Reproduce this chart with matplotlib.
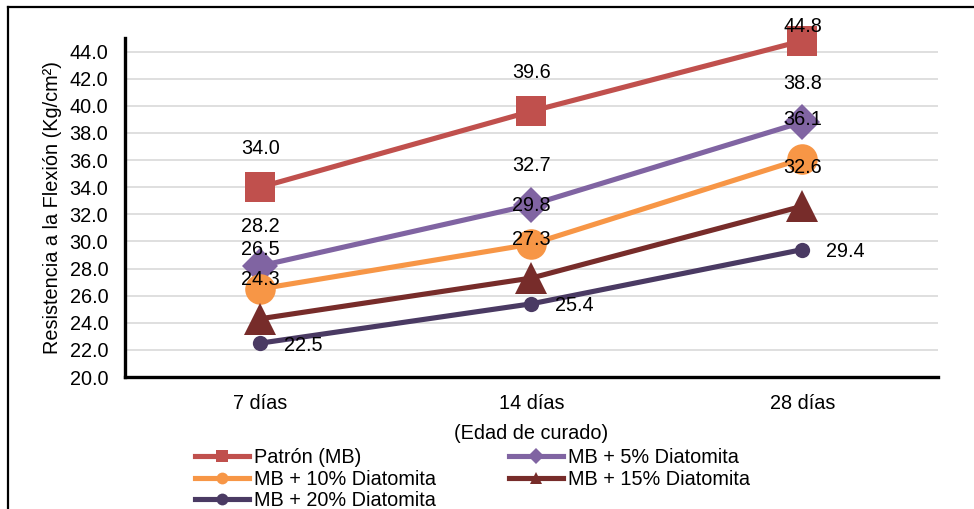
import matplotlib
matplotlib.use("Agg")
import matplotlib.pyplot as plt
from matplotlib.lines import Line2D

plt.rcParams['font.family'] = ['Liberation Sans', 'DejaVu Sans']

edades = ['7 días', '14 días', '28 días']

patron = [34.0, 39.6, 44.8]
dia5 = [28.2, 32.7, 38.8]
dia10 = [26.5, 29.8, 36.1]
dia15 = [24.3, 27.3, 32.6]
dia20 = [22.5, 25.4, 29.4]

nombres = ['Patrón (MB)', 'MB + 5% Diatomita', 'MB + 10% Diatomita',
           'MB + 15% Diatomita', 'MB + 20% Diatomita']

# estilo de cada serie: color, marcador, tamaño
estilos = [
    ('#C0504D', 's', 21),
    ('#8064A2', 'D', 18.5),
    ('#F79646', 'o', 22),
    ('#772C2A', '^', 23),
    ('#4A3A63', 'o', 11),
]

fs = 14.3
fig = plt.figure(figsize=(9.74, 5.09), dpi=100)
ax = fig.add_axes([0.1283, 0.2593, 0.8347, 0.666])

x = range(len(edades))
series = [patron, dia5, dia10, dia15, dia20]
lineas = []
for vals, nombre, (c, m, ms) in zip(series, nombres, estilos):
    ln, = ax.plot(x, vals, color=c, lw=3.7, marker=m, markersize=ms,
                  markeredgewidth=0, label=nombre, zorder=3, clip_on=False)
    lineas.append(ln)

# etiquetas de datos: encima para las primeras series, a la derecha para la última
for vals in series[:4]:
    for i, v in enumerate(vals):
        dy = 28
        if v > 44:
            dy = 10.5
        ax.annotate(f'{v:.1f}', (i, v), xytext=(0, dy), textcoords='offset points',
                    ha='center', va='center', fontsize=fs, zorder=4)
for i, v in enumerate(dia20):
    ax.annotate(f'{v:.1f}', (i, v), xytext=(17, -1.5), textcoords='offset points',
                ha='left', va='center', fontsize=fs, zorder=4)

ax.set_xlim(-0.5, 2.5)
ax.set_ylim(20, 45)
ax.set_yticks([20 + 2 * k for k in range(13)])
ax.yaxis.set_major_formatter(matplotlib.ticker.FormatStrFormatter('%.1f'))
ax.set_xticks(list(x))
ax.set_xticklabels(edades)
ax.tick_params(length=0, labelsize=fs)
ax.tick_params(axis='y', pad=12)
ax.tick_params(axis='x', pad=12)
ax.grid(axis='y', color='#D9D9D9', lw=1.2, zorder=0)
ax.set_axisbelow(True)

for s in ['top', 'right']:
    ax.spines[s].set_visible(False)
for s in ['left', 'bottom']:
    ax.spines[s].set_linewidth(2.4)
    ax.spines[s].set_color('black')

ax.set_ylabel('Resistencia a la Flexión (Kg/cm²)', fontsize=fs)
ax.yaxis.set_label_coords(-0.0775, 0.5)
ax.set_xlabel('(Edad de curado)', fontsize=fs)
ax.xaxis.set_label_coords(0.5, -0.168)
ax.xaxis.label.set_va('center')

# leyenda en filas: se reordena para llenar por columnas
orden = [0, 2, 4, 1, 3]
leg = fig.legend([lineas[k] for k in orden], [nombres[k] for k in orden],
                 loc='upper left', bbox_to_anchor=(0.2002, 0.119), ncol=2,
                 frameon=False, fontsize=fs, handlelength=2.7,
                 handletextpad=0.25, columnspacing=3.7, labelspacing=0.12,
                 borderpad=0, borderaxespad=0)
for h in leg.legend_handles:
    h.set_markersize(8.5)

# marco exterior del gráfico
fig.add_artist(Line2D([8 / 974, 1.0], [1 - 7 / 509, 1 - 7 / 509],
                      transform=fig.transFigure, color='black', lw=1.6))
fig.add_artist(Line2D([8 / 974, 8 / 974], [0, 1 - 7 / 509],
                      transform=fig.transFigure, color='black', lw=1.6))

fig.savefig('out.png', dpi=100)
